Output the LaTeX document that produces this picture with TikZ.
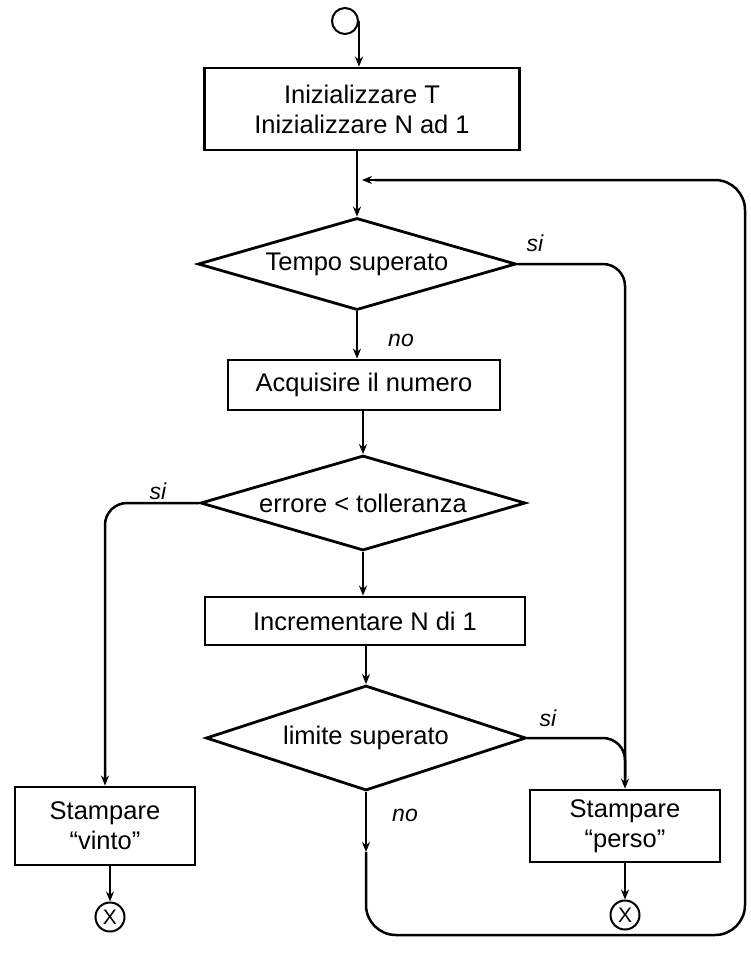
\documentclass[tikz,border=0pt]{standalone}
\usepackage{fontspec}
\setmainfont{Liberation Sans}
\usetikzlibrary{shapes.geometric,arrows.meta,decorations.markings,calc}
\begin{document}
\begin{tikzpicture}[x=1pt,y=-1pt,
  line width=2.5pt,
  every node/.style={font=\fontsize{25.5}{30}\selectfont},
  boxnode/.style={draw,rectangle,line width=2.8pt,align=center,inner sep=0pt},
  decnode/.style={draw,diamond,aspect=5,line width=2.8pt,inner sep=0pt,align=center},
  termnode/.style={draw,circle,line width=2pt,minimum size=29pt,inner sep=0pt},
  xfont/.style={font=\fontsize{21}{21}\selectfont},
  lbl/.style={font=\itshape\fontsize{23}{26}\selectfont},
  arr/.style={-{Stealth[length=10pt,width=8pt]}},
]
\useasboundingbox (0,0) rectangle (750,956);
\fill[white] (0,0) rectangle (750,956);

\node[termnode,minimum size=26pt] (start) at (345,21) {};
\node[boxnode,minimum width=315pt,minimum height=82pt] (box1) at (362,109) {Inizializzare T\\Inizializzare N ad 1};
\node[decnode,minimum width=318pt,minimum height=92pt] (d1) at (357,264) {Tempo superato};
\node[boxnode,minimum width=272pt,minimum height=50pt] (box2) at (364,385) {Acquisire il numero};
\node[decnode,minimum width=325pt,minimum height=95pt] (d2) at (363,503) {errore < tolleranza};
\node[boxnode,minimum width=320pt,minimum height=48pt] (box3) at (365,621) {Incrementare N di 1};
\node[decnode,minimum width=320pt,minimum height=105pt] (d3) at (366,738) {limite superato};
\node[boxnode,minimum width=180pt,minimum height=78pt] (vinto) at (105,826) {Stampare\\``vinto''};
\node[boxnode,minimum width=190pt,minimum height=72pt] (perso) at (625,826) {Stampare\\``perso''};
\node[termnode,xfont] (x1) at (110,917) {X};
\node[termnode,xfont] (x2) at (625,915) {X};

\node[lbl] (si1) at (535,243) {si};
\node[lbl] (no1) at (401,340) {no};
\node[lbl] (si2) at (158,491) {si};
\node[lbl] (si3) at (548,718) {si};
\node[lbl] (no3) at (405,815) {no};

\coordinate (join) at (362,180);
\coordinate (nomid) at (366,852);

% connectors
\draw[arr] (start.east) -- (start.east |- box1.north);
\draw[arr] (box1.south -| d1.north) -- (d1.north);
\draw[arr] (d1.south) -- (d1.south |- box2.north);
\draw[arr] (box2.south -| d2.north) -- (d2.north);
\draw[arr] (d2.south) -- (d2.south |- box3.north);
\draw[arr] (box3.south -| d3.north) -- (d3.north);
\draw[arr,rounded corners=22pt] (d1.east) -| (perso.north);
\draw[rounded corners=22pt] (d3.east) -| ($(perso.north)+(0,-10)$);
\draw[arr,rounded corners=22pt] (d2.west) -| (vinto.north);
\draw[arr] (vinto.south -| x1.north) -- (x1.north);
\draw[arr] (perso.south) -- (x2.north);
\draw[arr] (d3.south) -- (nomid);
\draw[rounded corners=30pt] (nomid) -- (nomid |- 0,935) -- (745,935) -- (745,180) -- (375,180);
\draw[arr] (380,180) -- (join);
\end{tikzpicture}
\end{document}
